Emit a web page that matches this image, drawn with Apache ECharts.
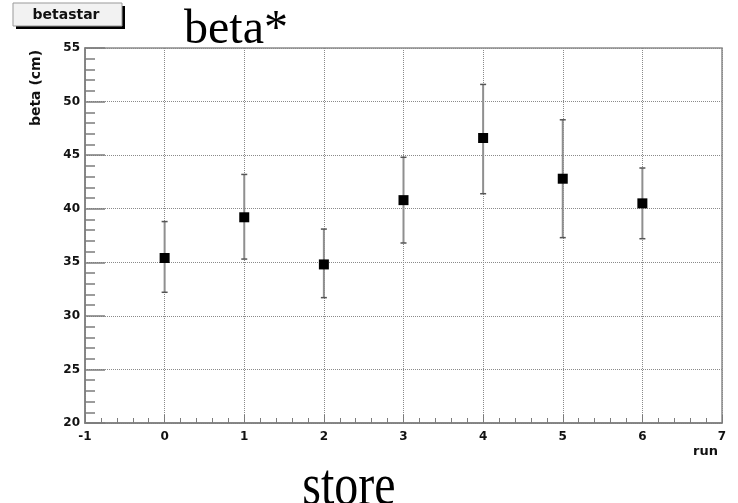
<!DOCTYPE html>
<html>
<head>
<meta charset="utf-8">
<script src="https://cdn.jsdelivr.net/npm/echarts@6/dist/echarts.min.js"></script>
<style>
  html, body { margin: 0; padding: 0; background: #fff; }
  #chart { width: 738px; height: 503px; }
</style>
</head>
<body>
<div id="chart"></div>
<script>
// Run numbers and measured beta* per run (cm), with error bar limits
const runs = [0, 1, 2, 3, 4, 5, 6];
const beta = [35.4, 39.2, 34.8, 40.8, 46.6, 42.8, 40.5];
const betaHigh = [38.8, 43.2, 38.1, 44.8, 51.6, 48.3, 43.8];
const betaLow = [32.2, 35.3, 31.7, 36.8, 41.4, 37.3, 37.2];

// Axis ranges
const xMin = -1, xMax = 7, xStep = 1;
const yMin = 20, yMax = 55, yStep = 5;

const labelFont = 'DejaVu Sans';

const chart = echarts.init(document.getElementById('chart'), null, { renderer: 'canvas' });

const points = runs.map((r, i) => [r, beta[i]]);
const bars = runs.map((r, i) => [r, betaLow[i], betaHigh[i]]);

const gridDots = { color: '#8a8a8a', width: 1, type: [1, 1] };
const axisGrey = '#7c7c7c';

chart.setOption({
  animation: false,
  backgroundColor: '#fff',
  grid: {
    left: 85, top: 48, right: 16, bottom: 80,
    show: true, borderColor: '#8c8c8c', borderWidth: 1.5, backgroundColor: 'transparent'
  },
  xAxis: {
    type: 'value', min: xMin, max: xMax, interval: xStep,
    axisLine: { show: true, onZero: false, lineStyle: { color: axisGrey, width: 1.5 } },
    axisTick: { show: true, inside: true, length: 8, lineStyle: { color: axisGrey, width: 1 } },
    minorTick: { show: true, splitNumber: 5, length: 5, lineStyle: { color: axisGrey, width: 1 } },
    splitLine: { show: true, lineStyle: gridDots },
    axisLabel: { color: '#111', fontFamily: labelFont, fontWeight: 'bold', fontSize: 12, margin: 8 }
  },
  yAxis: {
    type: 'value', min: yMin, max: yMax, interval: yStep,
    axisLine: { show: true, onZero: false, lineStyle: { color: axisGrey, width: 1.5 } },
    axisTick: { show: true, inside: true, length: 20, lineStyle: { color: axisGrey, width: 1.5 } },
    minorTick: { show: true, splitNumber: 5, length: 10, lineStyle: { color: axisGrey, width: 1.5 } },
    splitLine: { show: true, lineStyle: gridDots },
    axisLabel: { color: '#111', fontFamily: labelFont, fontWeight: 'bold', fontSize: 12, margin: 5 }
  },
  series: [
    {
      // vertical error bars with end caps
      type: 'custom',
      data: bars,
      z: 2,
      renderItem: function (params, api) {
        const x = api.value(0);
        const lo = api.coord([x, api.value(1)]);
        const hi = api.coord([x, api.value(2)]);
        const capHalf = 3;
        return {
          type: 'group',
          children: [
            { type: 'line', shape: { x1: lo[0], y1: lo[1], x2: hi[0], y2: hi[1] },
              style: { stroke: '#8f8f8f', lineWidth: 2 } },
            { type: 'line', shape: { x1: hi[0] - capHalf, y1: hi[1], x2: hi[0] + capHalf, y2: hi[1] },
              style: { stroke: '#555', lineWidth: 1.5 } },
            { type: 'line', shape: { x1: lo[0] - capHalf, y1: lo[1], x2: lo[0] + capHalf, y2: lo[1] },
              style: { stroke: '#555', lineWidth: 1.5 } }
          ]
        };
      }
    },
    {
      type: 'scatter',
      data: points,
      symbol: 'rect',
      symbolSize: 10,
      z: 3,
      itemStyle: { color: '#000', opacity: 1 }
    }
  ],
  graphic: [
    // histogram name box with drop shadow
    { type: 'rect', shape: { x: 16, y: 6, width: 109, height: 23 }, style: { fill: '#000' }, z: 10 },
    { type: 'rect', shape: { x: 13, y: 3, width: 109, height: 23 },
      style: { fill: '#f2f2f2', stroke: '#999', lineWidth: 1 }, z: 11 },
    { type: 'text', x: 66, y: 15, z: 12,
      style: { text: 'betastar', font: 'bold 14px "DejaVu Sans"', fill: '#111',
               textAlign: 'center', textVerticalAlign: 'middle' } },
    // title
    { type: 'text', x: 236, y: 54, z: 12,
      style: { text: 'beta*', font: '48px "Liberation Serif"', fill: '#000',
               textAlign: 'center', textVerticalAlign: 'bottom' } },
    // axis titles
    { type: 'text', x: 36, y: 88, rotation: Math.PI / 2, z: 12,
      style: { text: 'beta (cm)', font: 'bold 14px "DejaVu Sans"', fill: '#111',
               textAlign: 'center', textVerticalAlign: 'middle' } },
    { type: 'text', x: 718, y: 452, z: 12,
      style: { text: 'run', font: 'bold 13px "DejaVu Sans"', fill: '#111',
               textAlign: 'right', textVerticalAlign: 'middle' } },
    { type: 'text', x: 349, y: 488, z: 12, scaleY: 1.25,
      style: { text: 'store', font: '48px "Liberation Serif"', fill: '#000',
               textAlign: 'center', textVerticalAlign: 'middle' } }
  ]
});
</script>
</body>
</html>
